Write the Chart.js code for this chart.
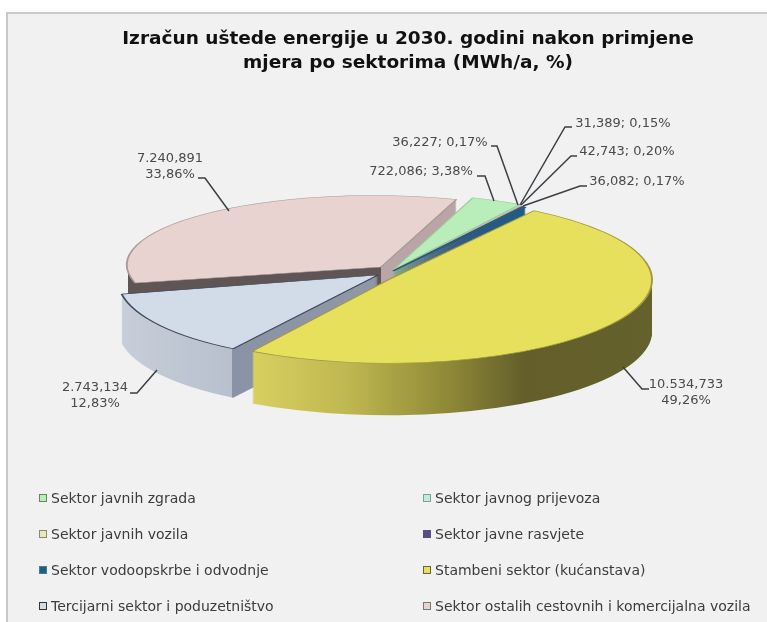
<!DOCTYPE html>
<html lang="hr">
<head>
  <meta charset="UTF-8" />
  <title>Izračun uštede energije</title>
  <script src="https://cdn.jsdelivr.net/npm/chart.js"></script>
  <style>
    html, body { margin: 0; background: #fff; }
    body { width: 767px; height: 622px; position: relative; overflow: hidden; font-family: "DejaVu Sans", sans-serif; }
    #panel { position: absolute; left: 6px; top: 12px; right: 0; bottom: 0; background: #f1f1f1; border-left: 2px solid #c9c9c9; border-top: 2px solid #c9c9c9; }
    #wrap { position: absolute; left: 0; top: 0; width: 767px; height: 622px; }
    #legenda { position: absolute; left: 39px; top: 480px; display: grid; grid-template-columns: 384px auto; grid-auto-rows: 36px; font-size: 14px; color: #3c3c3c; }
    #legenda div { display: flex; align-items: center; white-space: nowrap; }
    #legenda span { width: 6px; height: 6px; border: 1px solid; margin-right: 4px; }
  </style>
</head>
<body>
  <div id="panel"></div>
  <div id="wrap"><canvas id="graf"></canvas></div>
  <div id="legenda"></div>

  <script>
    const sektori = [
      'Sektor javnih zgrada',
      'Sektor javnog prijevoza',
      'Sektor javnih vozila',
      'Sektor javne rasvjete',
      'Sektor vodoopskrbe i odvodnje',
      'Stambeni sektor (kućanstava)',
      'Tercijarni sektor i poduzetništvo',
      'Sektor ostalih cestovnih i komercijalna vozila'
    ];
    const ustede = [722086, 36227, 31389, 42743, 36082, 10534733, 2743134, 7240891];
    const natpisi = [
      ['722,086; 3,38%'],
      ['36,227; 0,17%'],
      ['31,389; 0,15%'],
      ['42,743; 0,20%'],
      ['36,082; 0,17%'],
      ['10.534,733', '49,26%'],
      ['2.743,134', '12,83%'],
      ['7.240,891', '33,86%']
    ];
    const naslov = ['Izračun uštede energije u 2030. godini nakon primjene', 'mjera po sektorima (MWh/a, %)'];

    const boje = ['#b9edb9', '#c4e8dc', '#e8e8c0', '#5a4f85', '#1f5f86', '#e6e05c', '#d2dbe8', '#e8d3d0'];
    const rubovi = ['#9cc99c', '#9cc9bb', '#b8b890', '#4a4070', '#1f5f86', '#a09a40', '#3f4a5c', '#a89a98'];
    const legendaRub = ['#5e8a5a', '#6fa898', '#8a8a6a', '#5a4f85', '#3f7f8f', '#6a6530', '#333333', '#777777'];

    // bocne strane: [pozicija uz x, boja]
    const nevidljivo = 'rgba(0,0,0,0)';
    const bokovi = [
      [[0, '#7fae7f'], [1, '#7fae7f']],
      [[0, '#8fb8aa'], [1, '#8fb8aa']],
      [[0, '#b0b090'], [1, '#b0b090']],
      [[0, '#453b6b'], [1, '#453b6b']],
      [[0, '#1f5f86'], [1, '#1f5f86']],
      [[0, '#d8d060'], [0.24, '#d8d060'], [0.42, '#c0b850'], [0.61, '#908a38'], [0.76, '#635e2a'], [1, '#65612c']],
      [[0, '#c8cfda'], [0.241, '#b8c0ce'], [0.241, '#8a92a5'], [0.5, '#8f97a8'], [1, '#8f97a8']],
      [[0, nevidljivo], [0.004, nevidljivo], [0.004, '#5f5555'], [0.5, '#5f5555'], [0.5, '#b9a5a5'], [1, '#b9a5a5']]
    ];

    // eksplozija i perspektiva po kriski (px oko sredista pite)
    const pomakX = [5, 5, 5, 5, 5, 0, -10, -7];
    const pomakY = [0, 1, 1, 1, 1, 10, 5, -3];
    const polumjerX = [245, 242, 242, 242, 240, 264, 260, 254];
    const sploštenost = [0.28, 0.28, 0.28, 0.28, 0.28, 0.305, 0.315, 0.262];
    const nagib = [0, 0, 0, 0, 0, 0, -0.05, 0.03];
    const dubine = [50, 50, 50, 50, 50, 52, 49, 50];
    const redoslijed = [7, 0, 1, 2, 3, 4, 6, 5];
    const sredinaX = 388;
    const sredinaY = 270;

    // natpisi: sredina teksta i linija do kriske
    const natpisX = [421, 440, 623, 627, 637, 686, 95, 170];
    const natpisY = [172, 143, 124, 152, 182, 385, 388, 159];
    const linije = [
      [[477, 176], [485, 176], [494, 201]],
      [[491, 146], [497, 146], [518, 205]],
      [[572, 127], [565, 127], [520, 205]],
      [[577, 156], [571, 156], [521, 205]],
      [[587, 186], [580, 186], [523, 206]],
      [[649, 389], [642, 389], [623, 367]],
      [[130, 393], [137, 393], [157, 370]],
      [[198, 178], [205, 178], [229, 211]]
    ];

    function crtajKrisku(ctx, arc, i, pomak) {
      const sx = polumjerX[i] / arc.outerRadius;
      ctx.save();
      ctx.translate(sredinaX + pomakX[i], sredinaY + pomakY[i] + pomak);
      ctx.transform(sx, 0, nagib[i] * sx, sploštenost[i], 0, 0);
      ctx.translate(-arc.x, -arc.y);
      arc.draw(ctx);
      ctx.restore();
    }

    const pita3d = {
      id: 'pita3d',
      beforeDatasetsDraw(chart) {
        const ctx = chart.ctx;
        const luk = chart.getDatasetMeta(0).data;
        redoslijed.forEach(i => {
          const arc = luk[i];
          const izvorne = arc.options;
          const g = ctx.createLinearGradient(arc.x - arc.outerRadius, 0, arc.x + arc.outerRadius, 0);
          bokovi[i].forEach(s => g.addColorStop(s[0], s[1]));
          arc.options = Object.assign({}, izvorne, { backgroundColor: g, borderWidth: 0 });
          for (let d = dubine[i]; d > 0; d--) crtajKrisku(ctx, arc, i, d);
          arc.options = izvorne;
          crtajKrisku(ctx, arc, i, 0);
        });
        return false;
      },
      afterDraw(chart) {
        const ctx = chart.ctx;
        ctx.save();
        ctx.strokeStyle = '#3a3f45';
        ctx.lineWidth = 1.5;
        linije.forEach(l => {
          ctx.beginPath();
          l.forEach((p, j) => j ? ctx.lineTo(p[0], p[1]) : ctx.moveTo(p[0], p[1]));
          ctx.stroke();
        });
        ctx.fillStyle = '#4a4a4a';
        ctx.font = '13px "DejaVu Sans"';
        ctx.textAlign = 'center';
        ctx.textBaseline = 'middle';
        natpisi.forEach((n, i) => {
          n.forEach((t, j) => ctx.fillText(t, natpisX[i], natpisY[i] + j * 16));
        });
        ctx.restore();
      }
    };

    new Chart(document.getElementById('graf'), {
      type: 'pie',
      data: {
        labels: sektori,
        datasets: [{
          data: ustede,
          backgroundColor: boje,
          borderColor: rubovi,
          borderWidth: 2
        }]
      },
      options: {
        responsive: true,
        maintainAspectRatio: false,
        animation: false,
        rotation: 19,
        layout: { padding: { left: 49, top: 28 } },
        plugins: {
          legend: { display: false },
          tooltip: { enabled: false },
          title: {
            display: true,
            fullSize: false,
            text: naslov,
            color: '#111',
            padding: 0,
            font: { family: '"DejaVu Sans"', size: 18.5, weight: 'bold', lineHeight: 1.25 }
          }
        }
      },
      plugins: [pita3d]
    });

    const legenda = document.getElementById('legenda');
    sektori.forEach((s, i) => {
      const red = document.createElement('div');
      const kv = document.createElement('span');
      kv.style.background = boje[i];
      kv.style.borderColor = legendaRub[i];
      red.appendChild(kv);
      red.appendChild(document.createTextNode(s));
      legenda.appendChild(red);
    });
  </script>
</body>
</html>
